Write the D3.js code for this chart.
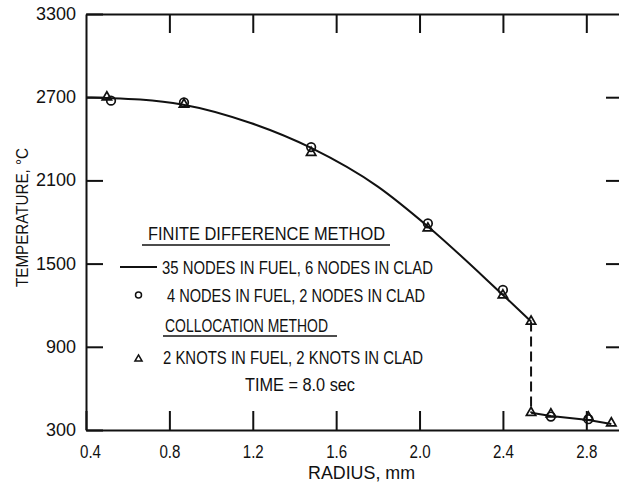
<!DOCTYPE html>
<html><head><meta charset="utf-8">
<script src="https://cdn.jsdelivr.net/npm/d3@7"></script>
<style>
html,body{margin:0;padding:0;background:#fff;}
svg{display:block;}
text{font-family:"Liberation Sans Narrow","Liberation Sans",Arial,sans-serif;fill:#111;}
</style></head>
<body>
<svg id="c" width="619" height="483"></svg>
<script>
// ---- data ----
const xTicks = [0.4, 0.8, 1.2, 1.6, 2.0, 2.4, 2.8];
const yTicks = [300, 900, 1500, 2100, 2700, 3300];
// Finite difference, 35 nodes in fuel, 6 in clad (solid line)
const fdFuelR = [0.40, 0.50, 0.66, 0.86, 1.19, 1.48, 1.80, 2.04, 2.39, 2.535];
const fdFuelT = [2698, 2694, 2683, 2648, 2514, 2334, 2055, 1768, 1288, 1083];
const fdCladR = [2.535, 2.63, 2.81, 2.92];
const fdCladT = [425, 401, 372, 344];
const gapR = [2.535, 2.535];
const gapT = [1083, 425];
// Finite difference, 4 nodes in fuel, 2 in clad (circles)
const circR = [0.52, 0.87, 1.48, 2.04, 2.40, 2.63, 2.81];
const circT = [2675, 2662, 2340, 1790, 1310, 397, 378];
// Collocation, 2 knots in fuel, 2 in clad (triangles)
const triR = [0.50, 0.87, 1.48, 2.04, 2.40, 2.535, 2.535, 2.63, 2.81, 2.92];
const triT = [2700, 2648, 2300, 1755, 1272, 1083, 425, 414, 392, 349];

const svg = d3.select("#c");
const x = d3.scaleLinear().domain([0.4, 3.0]).range([86, 628]);
const y = d3.scaleLinear().domain([300, 3300]).range([430, 14]);

const fmtX = d => d.toFixed(1);
const FF = "'Liberation Sans Narrow','Liberation Sans',Arial,sans-serif";

// left axis (ticks inward)
const gL = svg.append("g").attr("transform", "translate(86,0)")
  .call(d3.axisLeft(y).tickValues(yTicks).tickSizeInner(-17).tickSizeOuter(0).tickPadding(10).tickFormat(d3.format("d")));
// bottom axis (ticks inward)
const gB = svg.append("g").attr("transform", "translate(0,430)")
  .call(d3.axisBottom(x).tickValues(xTicks).tickSizeInner(-19).tickSizeOuter(0).tickPadding(15).tickFormat(fmtX));
// top axis
const gT = svg.append("g").attr("transform", "translate(0,14)")
  .call(d3.axisTop(x).tickValues(xTicks.slice(1)).tickSizeInner(-19).tickSizeOuter(0).tickFormat(""));
// right axis
const gR = svg.append("g").attr("transform", "translate(628,0)")
  .call(d3.axisRight(y).tickValues(yTicks.slice(1, 5)).tickSizeInner(-22).tickSizeOuter(0).tickFormat(""));

[gL, gB, gT, gR].forEach(g => {
  g.select(".domain").attr("stroke", "#111").attr("stroke-width", 2);
  g.selectAll(".tick line").attr("stroke", "#111").attr("stroke-width", 2);
});
gL.selectAll(".tick text").attr("font-size", 18).attr("dy", "0.3em")
  .attr("font-family", FF).attr("fill", "#111")
  .each(function(d){ const s=String(d); d3.select(this).attr("textLength", s.length*10).attr("lengthAdjust","spacingAndGlyphs"); });
gB.selectAll(".tick text").attr("font-size", 18).attr("fill", "#111")
  .attr("font-family", FF)
  .attr("textLength", 21).attr("lengthAdjust", "spacingAndGlyphs");
gB.selectAll(".tick").filter(d => d === 0.4).select("text").attr("dx", 4);

// curves
const lineGen = d3.line().x(d => x(d[0])).y(d => y(d[1])).curve(d3.curveMonotoneX);
const straight = d3.line().x(d => x(d[0])).y(d => y(d[1]));
const plot = svg.append("g");
plot.append("path").datum(d3.zip(fdFuelR, fdFuelT)).attr("d", lineGen)
  .attr("fill", "none").attr("stroke", "#111").attr("stroke-width", 2);
plot.append("path").datum(d3.zip(fdCladR, fdCladT)).attr("d", straight)
  .attr("fill", "none").attr("stroke", "#111").attr("stroke-width", 2);
plot.append("path").datum(d3.zip(gapR, gapT)).attr("d", straight)
  .attr("fill", "none").attr("stroke", "#111").attr("stroke-width", 2).attr("stroke-dasharray", "10,5");

// markers
const triSym = d3.symbol().type(d3.symbolTriangle).size(38);
plot.selectAll("circle.m").data(d3.zip(circR, circT)).join("circle")
  .attr("class", "m").attr("cx", d => x(d[0])).attr("cy", d => y(d[1])).attr("r", 4.3)
  .attr("fill", "none").attr("stroke", "#111").attr("stroke-width", 1.7);
plot.selectAll("path.t").data(d3.zip(triR, triT)).join("path")
  .attr("class", "t").attr("d", triSym)
  .attr("transform", d => `translate(${x(d[0])},${y(d[1])})`)
  .attr("fill", "none").attr("stroke", "#111").attr("stroke-width", 1.7);

// axis titles
function txt(xp, yp, s, w, size, anchor) {
  return svg.append("text").attr("x", xp).attr("y", yp).attr("font-size", size || 18)
    .attr("text-anchor", anchor || "start").attr("textLength", w).attr("lengthAdjust", "spacingAndGlyphs").text(s);
}
txt(308, 479, "RADIUS,  mm", 107, 18);
svg.append("text").attr("transform", "translate(28,217.5) rotate(-90)")
  .attr("x", -69.5).attr("y", 0).attr("font-size", 17)
  .attr("textLength", 139).attr("lengthAdjust", "spacingAndGlyphs").text("TEMPERATURE, °C");

// legend
txt(148, 240, "FINITE  DIFFERENCE  METHOD", 237, 18);
svg.append("line").attr("x1", 142).attr("x2", 390).attr("y1", 245).attr("y2", 245).attr("stroke", "#111").attr("stroke-width", 1.5);
svg.append("line").attr("x1", 120).attr("x2", 157).attr("y1", 267).attr("y2", 267).attr("stroke", "#111").attr("stroke-width", 2);
txt(162, 274, "35 NODES IN FUEL, 6 NODES IN CLAD", 271, 18);
svg.append("circle").attr("cx", 138.5).attr("cy", 295).attr("r", 3).attr("fill", "none").attr("stroke", "#111").attr("stroke-width", 1.5);
txt(167, 301.5, "4 NODES IN FUEL, 2 NODES IN CLAD", 258, 18);
txt(165, 332, "COLLOCATION METHOD", 163, 18);
svg.append("line").attr("x1", 163).attr("x2", 337).attr("y1", 336).attr("y2", 336).attr("stroke", "#111").attr("stroke-width", 1.5);
svg.append("path").attr("d", d3.symbol().type(d3.symbolTriangle).size(22))
  .attr("transform", "translate(138.5,359)").attr("fill", "none").attr("stroke", "#111").attr("stroke-width", 1.5);
txt(163, 364, "2 KNOTS IN FUEL, 2 KNOTS IN CLAD", 260, 18);
txt(245, 390.5, "TIME = 8.0 sec", 110, 18);
</script>
</body></html>
